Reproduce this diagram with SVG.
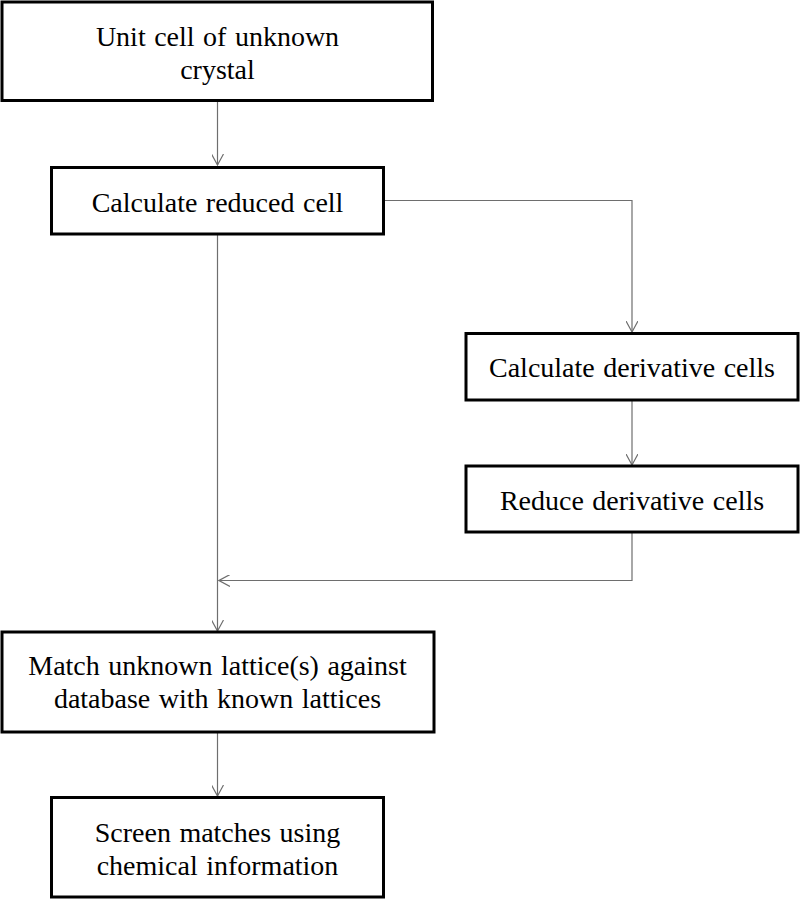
<svg xmlns="http://www.w3.org/2000/svg" width="800" height="899" viewBox="0 0 800 899">
<defs>
<style>
.box{fill:#fff;stroke:#000;stroke-width:3}
.lbl{font-family:'Liberation Serif','DejaVu Serif',serif;font-size:28px;fill:#000;text-anchor:middle;word-spacing:1.5px}
.con{fill:none;stroke:#6e6e6e;stroke-width:1.2}
</style>
<marker id="ah" viewBox="0 0 12 12" refX="11" refY="6" markerWidth="12" markerHeight="12" markerUnits="userSpaceOnUse" orient="auto">
<path d="M0,0 L11,6 L0,12" fill="none" stroke="#6e6e6e" stroke-width="1.2"/>
</marker>
</defs>
<rect width="800" height="899" fill="#fff"/>
<g id="connectors">
<path class="con" d="M217.5,101 V165" marker-end="url(#ah)"/>
<path class="con" d="M384,200.5 H632 V332" marker-end="url(#ah)"/>
<path class="con" d="M632,401 V465" marker-end="url(#ah)"/>
<path class="con" d="M632,533 V580.5 H219" marker-end="url(#ah)"/>
<path class="con" d="M217.5,235 V631" marker-end="url(#ah)"/>
<path class="con" d="M217.5,733 V796" marker-end="url(#ah)"/>
</g>
<g id="n1">
<rect class="box" x="2" y="2" width="430.5" height="98.5"/>
<text class="lbl" x="217.5" y="46">Unit cell of unknown</text>
<text class="lbl" x="217.5" y="79">crystal</text>
</g>
<g id="n2">
<rect class="box" x="51.5" y="167.5" width="332" height="66.5"/>
<text class="lbl" x="217.5" y="212">Calculate reduced cell</text>
</g>
<g id="n3">
<rect class="box" x="466" y="333.5" width="332" height="66.5"/>
<text class="lbl" x="632" y="377">Calculate derivative cells</text>
</g>
<g id="n4">
<rect class="box" x="466" y="466" width="332" height="66"/>
<text class="lbl" x="632" y="510">Reduce derivative cells</text>
</g>
<g id="n5">
<rect class="box" x="2" y="632" width="432" height="100"/>
<text class="lbl" x="217.5" y="675">Match unknown lattice(s) against</text>
<text class="lbl" x="217.5" y="708">database with known lattices</text>
</g>
<g id="n6">
<rect class="box" x="51.5" y="797.5" width="332" height="99.5"/>
<text class="lbl" x="217.5" y="842">Screen matches using</text>
<text class="lbl" x="217.5" y="875">chemical information</text>
</g>
</svg>
